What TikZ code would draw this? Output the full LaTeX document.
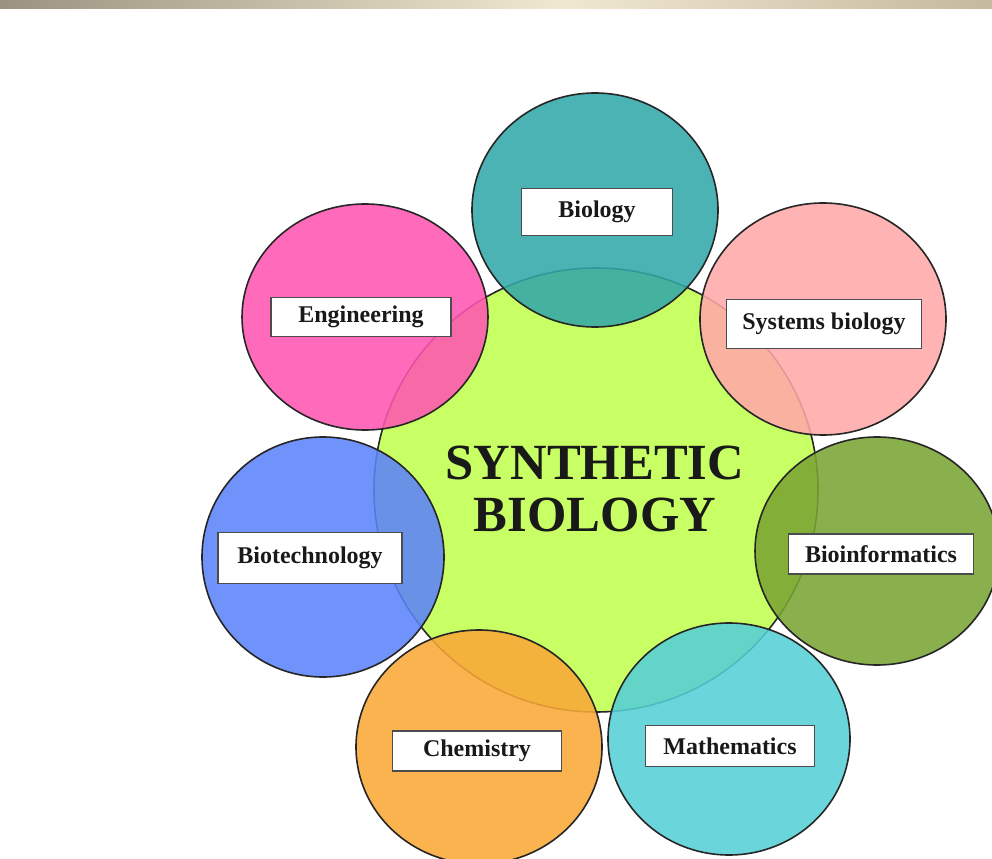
\documentclass[tikz,border=0pt]{standalone}
\usepackage{fontspec}
\setmainfont{Liberation Serif}
\usepackage{xcolor}
\usepackage{tikz}

\definecolor{barleft}{RGB}{155,146,128}
\definecolor{barmid}{RGB}{241,232,208}
\definecolor{barright}{RGB}{196,186,160}
\definecolor{corelime}{RGB}{200,255,100}
\definecolor{bioteal}{RGB}{50,168,168}
\definecolor{engpink}{RGB}{255,85,178}
\definecolor{syspink}{RGB}{255,168,168}
\definecolor{techblue}{RGB}{92,132,250}
\definecolor{infogreen}{RGB}{122,165,52}
\definecolor{chemorange}{RGB}{250,168,55}
\definecolor{mathcyan}{RGB}{85,208,214}

\tikzset{
  field/.style={draw=black!85, line width=1.2pt, fill opacity=0.88},
  tag/.style={draw=black!70, line width=1.1pt, fill=white, inner sep=0pt,
    font=\fontsize{18}{20}\selectfont\bfseries, text=black!90},
}

\begin{document}
\begin{tikzpicture}[x=0.75pt,y=-0.75pt]
					\useasboundingbox (0,0) rectangle (992,859);
					\clip (0,0) rectangle (992,859);
					\shade[left color=barleft, right color=barmid] (0,0) rectangle (560,9);
					\shade[left color=barmid, right color=barright] (560,0) rectangle (992,9);
					% centre
					\filldraw[draw=black!85, line width=1.2pt, fill=corelime] (596,490) circle (222);
					% fields round it
					\filldraw[field, fill=bioteal] (595,210) ellipse (123 and 117);
					\filldraw[field, fill=syspink] (823,319) ellipse (123 and 116);
					\filldraw[field, fill=infogreen] (877,551) ellipse (122 and 114);
					\filldraw[field, fill=mathcyan] (729,739) ellipse (121 and 116);
					\filldraw[field, fill=chemorange] (479,747) ellipse (123 and 117);
					\filldraw[field, fill=techblue] (323,557) ellipse (121 and 120);
					\filldraw[field, fill=engpink] (365,317) ellipse (123 and 113);
					% labels
					\node[tag, minimum width=113pt, minimum height=35pt] (biology) at (597,212) {Biology};
					\node[tag, minimum width=146pt, minimum height=37pt] (systems) at (824,324) {Systems biology};
					\node[tag, minimum width=139pt, minimum height=30pt] (bioinfo) at (881,554) {Bioinformatics};
					\node[tag, minimum width=127pt, minimum height=31pt] (maths) at (730,746) {Mathematics};
					\node[tag, minimum width=127pt, minimum height=30pt] (chemistry) at (477,751) {Chemistry};
					\node[tag, minimum width=138pt, minimum height=38pt] (biotech) at (310,558) {Biotechnology};
					\node[tag, minimum width=135pt, minimum height=29pt] (engineering) at (361,317) {Engineering};
					\node[align=center, font=\fontsize{38}{39}\selectfont\bfseries, text=black!90] (title) at (595,489) {SYNTHETIC\\BIOLOGY};
				\end{tikzpicture}
\end{document}
